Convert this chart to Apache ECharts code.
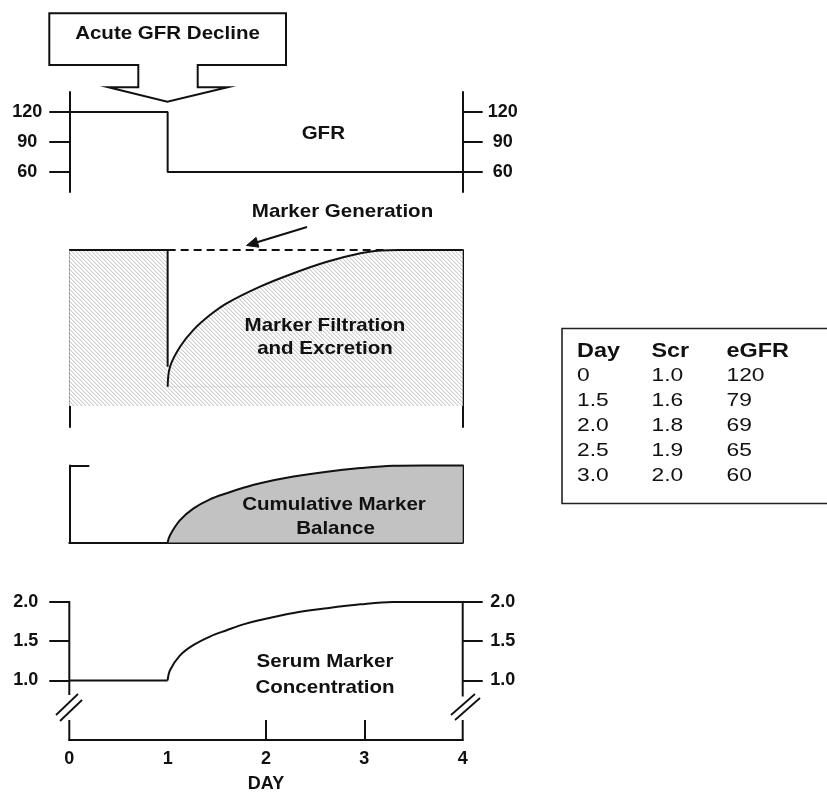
<!DOCTYPE html>
<html><head><meta charset="utf-8">
<style>html,body{margin:0;padding:0;background:#fff}#c{width:827px;height:793px}</style>
<script src="https://cdn.jsdelivr.net/npm/echarts@6/dist/echarts.min.js"></script>
</head><body><div id="c"></div>
<script>
// ---------------- data ----------------
const dayTicks = [0, 1, 2, 3, 4];
const dayTickMarks = [2, 3];

const gfrDays = [0, 1, 1, 4];
const gfrValues = [120, 120, 60, 60];
const gfrTicks = [60, 90, 120];

// marker generation / filtration (% of generation rate)
const preDeclineDays = [0, 1, 1];
const preDeclineValues = [100, 100, 57.3];
const generationDays = [1, 3.2];
const generationValues = [100, 100];
const filtrationDays = [1.0, 1.024, 1.126, 1.26, 1.43, 1.60, 1.94, 2.28, 2.62, 2.96, 3.17, 3.35, 3.6, 3.8, 4.0];
const filtrationValues = [50, 57.3, 64.6, 70.7, 76.2, 80.5, 86.6, 91.5, 95.7, 98.8, 99.8, 100, 100, 100, 100];
const troughDays = [1, 3.3];
const troughValues = [50, 50];

// cumulative marker balance (% of final)
const balanceDays = [1.0, 1.024, 1.126, 1.26, 1.43, 1.60, 1.77, 1.94, 2.28, 2.62, 2.96, 3.29, 3.6, 3.8, 4.0];
const balanceValues = [0, 9.5, 29, 44, 56, 64, 71, 77, 85.6, 92, 96.6, 99.6, 100, 100, 100];
const balanceStubTicks = [100];

// serum marker concentration
const scrDays = [0, 1.0, 1.024, 1.126, 1.26, 1.43, 1.60, 1.77, 1.94, 2.28, 2.62, 2.96, 3.29, 3.6, 3.8, 4.0];
const scrValues = [1.0, 1.0, 1.13, 1.32, 1.45, 1.56, 1.64, 1.715, 1.77, 1.86, 1.92, 1.97, 2.0, 2.0, 2.0, 2.0];
const scrTicks = [1.0, 1.5, 2.0];

// table
const tableHeaders = ['Day', 'Scr', 'eGFR'];
const tableDay = ['0', '1.5', '2.0', '2.5', '3.0'];
const tableScr = ['1.0', '1.6', '1.8', '1.9', '2.0'];
const tableEGFR = ['120', '79', '69', '65', '60'];

// ---------------- helpers / layout ----------------
const pairs = (xs, ys) => xs.map((x, i) => [x, ys[i]]);
const FONT = '"Liberation Sans", Arial, Helvetica, sans-serif';
const INK = '#111';
const X0 = 69.3, XW = 393.4, XR = X0 + XW;

function makeHatch() {
  const n = 4, c = document.createElement('canvas'); c.width = n; c.height = n;
  const ctx = c.getContext('2d'); const img = ctx.createImageData(n, n);
  for (let y = 0; y < n; y++) for (let x = 0; x < n; x++) {
    const d = ((x - y) % n + n) % n;
    const v = d === 0 ? 206 : (d === 1 ? 234 : 255);
    const i = (y * n + x) * 4;
    img.data[i] = img.data[i + 1] = img.data[i + 2] = v; img.data[i + 3] = 255;
  }
  ctx.putImageData(img, 0, 0); return c;
}
const hatch = makeHatch();

const lineAxis = { show: true, onZero: false, lineStyle: { color: INK, width: 2 } };
const noTick = { show: false }, noLabel = { show: false }, noSplit = { show: false };
const tickLabel = (vals, margin, fmt) => ({
  show: true, customValues: vals, margin: margin, align: 'center',
  color: INK, fontFamily: FONT, fontWeight: 'bold', fontSize: 18,
  formatter: fmt || (v => String(v))
});
const outTicks = vals => ({ show: true, customValues: vals, inside: false, length: 20, lineStyle: { color: INK, width: 2 } });

const grids = [
  { left: X0, width: XW, top: 92, height: 100 },     // 0 GFR
  { left: X0, width: XW, top: 250, height: 177 },    // 1 marker lines
  { left: X0, width: XW, top: 250, height: 156 },    // 2 hatch
  { left: X0, width: XW, top: 465.5, height: 77 },   // 3 balance
  { left: X0, width: XW, top: 602, height: 138 }     // 4 serum
].map(g => Object.assign({ containLabel: false, outerBoundsMode: 'none', show: false }, g));

const xAxes = grids.map((g, i) => ({
  gridIndex: i, type: 'value', min: 0, max: 4, interval: 1,
  axisLine: { show: false }, axisTick: noTick, axisLabel: noLabel, splitLine: noSplit
}));
xAxes[3].axisLine = lineAxis;
xAxes[4].axisLine = lineAxis;
xAxes[4].axisTick = { show: true, customValues: dayTickMarks, inside: true, length: 20, lineStyle: { color: INK, width: 2 } };
xAxes[4].axisLabel = { show: true, customValues: dayTicks, margin: 10, color: INK, fontFamily: FONT, fontWeight: 'bold', fontSize: 18 };
xAxes[4].name = 'DAY';
xAxes[4].nameLocation = 'middle';
xAxes[4].nameGap = 35;
xAxes[4].nameTextStyle = { color: INK, fontFamily: FONT, fontWeight: 'bold', fontSize: 18 };

const yAxes = [
  // 0,1 GFR
  { gridIndex: 0, type: 'value', position: 'left', min: 40, max: 140, axisLine: lineAxis, axisTick: outTicks(gfrTicks), axisLabel: tickLabel(gfrTicks, 42), splitLine: noSplit },
  { gridIndex: 0, type: 'value', position: 'right', min: 40, max: 140, axisLine: lineAxis, axisTick: outTicks(gfrTicks), axisLabel: tickLabel(gfrTicks, 40), splitLine: noSplit },
  // 2,3 marker lines
  { gridIndex: 1, type: 'value', position: 'left', min: 35.26, max: 100, axisLine: lineAxis, axisTick: noTick, axisLabel: noLabel, splitLine: noSplit },
  { gridIndex: 1, type: 'value', position: 'right', min: 35.26, max: 100, axisLine: lineAxis, axisTick: noTick, axisLabel: noLabel, splitLine: noSplit },
  // 4 hatch
  { gridIndex: 2, type: 'value', min: 42.94, max: 100, show: false, splitLine: noSplit },
  // 5,6 balance
  { gridIndex: 3, type: 'value', position: 'left', min: 0, max: 100, axisLine: lineAxis,
    axisTick: { show: true, customValues: balanceStubTicks, inside: true, length: 20, lineStyle: { color: INK, width: 2 } },
    axisLabel: noLabel, splitLine: noSplit },
  { gridIndex: 3, type: 'value', position: 'right', min: 0, max: 100, axisLine: lineAxis, axisTick: noTick, axisLabel: noLabel, splitLine: noSplit },
  // 7,8 serum
  { gridIndex: 4, type: 'value', position: 'left', min: 0.242, max: 2, axisLine: { show: false }, axisTick: outTicks(scrTicks), axisLabel: tickLabel(scrTicks, 43.5, v => v.toFixed(1)), splitLine: noSplit },
  { gridIndex: 4, type: 'value', position: 'right', min: 0.242, max: 2, axisLine: { show: false }, axisTick: outTicks(scrTicks), axisLabel: tickLabel(scrTicks, 40, v => v.toFixed(1)), splitLine: noSplit }
];

const base = { type: 'line', symbol: 'none', clip: false, silent: true, animation: false };
const ink = { color: INK, width: 2 };
const SM = 0.35;

const series = [
  Object.assign({}, base, { xAxisIndex: 0, yAxisIndex: 0, data: pairs(gfrDays, gfrValues), lineStyle: ink }),
  // hatch
  Object.assign({}, base, { xAxisIndex: 2, yAxisIndex: 4, data: pairs(preDeclineDays.slice(0, 2), preDeclineValues.slice(0, 2)),
    lineStyle: { width: 0 }, areaStyle: { color: { image: hatch, repeat: 'repeat' }, opacity: 1, origin: 'start' } }),
  Object.assign({}, base, { xAxisIndex: 2, yAxisIndex: 4, data: pairs(filtrationDays, filtrationValues), smooth: SM,
    lineStyle: { width: 0 }, areaStyle: { color: { image: hatch, repeat: 'repeat' }, opacity: 1, origin: 'start' } }),
  Object.assign({}, base, { xAxisIndex: 1, yAxisIndex: 2, data: pairs(troughDays, troughValues), lineStyle: { color: '#c4c4c4', width: 1, type: 'dotted' } }),
  Object.assign({}, base, { xAxisIndex: 1, yAxisIndex: 2, data: pairs(preDeclineDays, preDeclineValues), lineStyle: ink }),
  Object.assign({}, base, { xAxisIndex: 1, yAxisIndex: 2, data: pairs(generationDays, generationValues), lineStyle: { color: INK, width: 2, type: [8, 5] } }),
  Object.assign({}, base, { xAxisIndex: 1, yAxisIndex: 2, data: pairs(filtrationDays, filtrationValues), smooth: SM, lineStyle: ink }),
  // balance
  Object.assign({}, base, { xAxisIndex: 3, yAxisIndex: 5, data: pairs(balanceDays, balanceValues), smooth: SM,
    lineStyle: ink, areaStyle: { color: '#c2c2c2', opacity: 1, origin: 'start' } }),
  // serum
  Object.assign({}, base, { xAxisIndex: 4, yAxisIndex: 7, data: pairs(scrDays.slice(0, 2), scrValues.slice(0, 2)), lineStyle: ink }),
  Object.assign({}, base, { xAxisIndex: 4, yAxisIndex: 7, data: pairs(scrDays.slice(1), scrValues.slice(1)), smooth: SM, lineStyle: ink })
];

// ---------------- annotations ----------------
function txt(x, y, s, size, weight, align, sx) {
  return { type: 'text', x: x, y: y, scaleX: sx || 1, silent: true, z: 100,
    style: { text: s, fill: INK, font: (weight || 'bold') + ' ' + size + 'px ' + FONT,
      textAlign: align || 'center', align: align || 'center', textVerticalAlign: 'middle', verticalAlign: 'middle' } };
}
function seg(x1, y1, x2, y2, w) {
  return { type: 'line', silent: true, z: 100, shape: { x1: x1, y1: y1, x2: x2, y2: y2 }, style: { stroke: INK, lineWidth: w || 2 } };
}

const graphics = [
  { type: 'polygon', silent: true, z: 90,
    shape: { points: [[49.3, 13.3], [286, 13.3], [286, 65], [197.7, 65], [197.7, 87.3], [227.7, 87.3], [167.3, 101.7], [108.3, 87.3], [138.3, 87.3], [138.3, 65], [49.3, 65]] },
    style: { fill: '#fff', stroke: INK, lineWidth: 2 } },
  txt(167.5, 34, 'Acute GFR Decline', 19, 'bold', 'center', 1.08),
  txt(323.3, 134, 'GFR', 19, 'bold', 'center', 1.08),
  txt(342.5, 212, 'Marker Generation', 19, 'bold', 'center', 1.08),
  seg(307, 227, 257, 242.2, 2),
  { type: 'polygon', silent: true, z: 100, shape: { points: [[246.5, 245.5], [258.9, 247.2], [256.1, 237.4]] }, style: { fill: INK, stroke: INK, lineWidth: 1 } },
  txt(325, 325.5, 'Marker Filtration', 19, 'bold', 'center', 1.08),
  txt(325, 348.5, 'and Excretion', 19, 'bold', 'center', 1.08),
  txt(334, 505, 'Cumulative Marker', 19, 'bold', 'center', 1.08),
  txt(335.5, 528.5, 'Balance', 19, 'bold', 'center', 1.08),
  txt(325, 662, 'Serum Marker', 19, 'bold', 'center', 1.08),
  txt(325, 687.5, 'Concentration', 19, 'bold', 'center', 1.08),
  // serum axis lines with breaks
  seg(X0, 601, X0, 695), seg(X0, 720, X0, 741),
  seg(XR, 601, XR, 696.5), seg(XR, 720, XR, 741),
  seg(56, 715, 78, 694, 1.8), seg(60, 721, 82, 700, 1.8),
  seg(451, 715, 475, 694, 1.8), seg(455, 720, 480, 698, 1.8),
  // table
  { type: 'rect', silent: true, z: 90, shape: { x: 562, y: 328.5, width: 280, height: 175 }, style: { fill: '#fff', stroke: '#222', lineWidth: 1.6 } }
];
const colX = [577, 651.5, 726.5];
tableHeaders.forEach((h, j) => graphics.push(txt(colX[j], 351.5, h, 19.5, 'bold', 'left', 1.2)));
[tableDay, tableScr, tableEGFR].forEach((col, j) => col.forEach((v, i) =>
  graphics.push(txt(colX[j], 375.5 + i * 25, v, 19, 'normal', 'left', 1.2))));

const chart = echarts.init(document.getElementById('c'), null, { renderer: 'canvas' });
chart.setOption({
  animation: false,
  backgroundColor: '#fff',
  grid: grids, xAxis: xAxes, yAxis: yAxes, series: series,
  graphic: { elements: graphics }
});
</script></body></html>
